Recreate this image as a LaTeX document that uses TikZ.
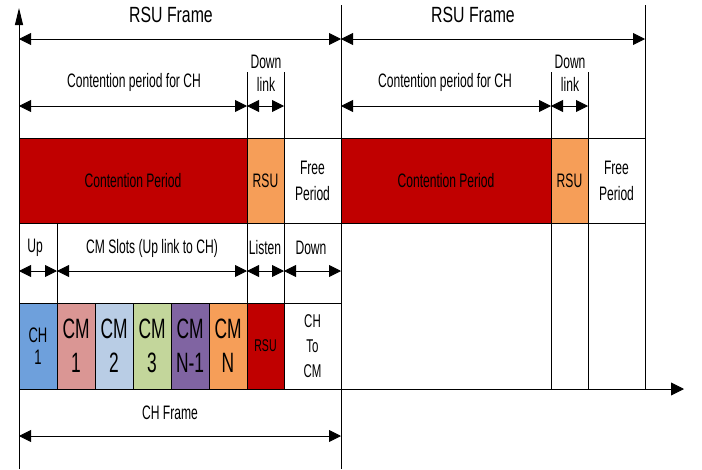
\documentclass[tikz,border=0pt]{standalone}
\usepackage{fontspec}
\setmainfont[FakeStretch=0.62]{Liberation Sans}
\newfontfamily\widefont[FakeStretch=0.72]{Liberation Sans}
\usetikzlibrary{arrows.meta}
\definecolor{cpred}{RGB}{192,0,0}
\definecolor{rsuorange}{RGB}{246,158,88}
\definecolor{chblue}{RGB}{110,160,220}
\definecolor{cmpink}{RGB}{218,150,148}
\definecolor{cmlblue}{RGB}{185,205,229}
\definecolor{cmgreen}{RGB}{195,214,155}
\definecolor{cmpurple}{RGB}{128,100,162}

\begin{document}
\begin{tikzpicture}[x=1pt,y=-1pt]
        \tikzstyle{every node}+=[inner sep=0pt, font=\fontsize{19.5}{24}\selectfont]
        \tikzstyle{dim}=[{Triangle[length=12pt,width=12pt]}-{Triangle[length=12pt,width=12pt]}, line width=0.9pt]
        \tikzstyle{slot}=[draw=black, line width=0.9pt, outer sep=0pt, anchor=north west]
        \tikzstyle{grid}=[black, line width=0.6pt]
        \useasboundingbox (0,0) rectangle (702,469);
        % time axes
        \draw [black, line width=0.9pt, -{Triangle[length=17pt,width=8pt]}] (19,469) coordinate (ybot) -- (19,8) coordinate (ytop);
        \draw [black, line width=0.9pt, -{Triangle[length=13pt,width=13pt]}] (19,389) coordinate (xorg) -- (684,389) coordinate (xend);
        % frame boundaries
        \draw [grid] (341,5) -- (341,469);
        \draw [grid] (645,5) -- (645,389);
        \draw [grid] (247,72) -- (247,389);
        \draw [grid] (284,72) -- (284,389);
        \draw [grid] (551,72) -- (551,389);
        \draw [grid] (588,72) -- (588,389);
        \draw [grid] (57,223) -- (57,303);
        % RSU level
        \node [slot, fill=cpred, minimum width=228pt, minimum height=85pt] (cp1) at (19,138) {Contention Period};
        \node [slot, fill=rsuorange, minimum width=37pt, minimum height=85pt] (rsu1) at (247,138) {RSU};
        \node [slot, fill=white, minimum width=57pt, minimum height=85pt, align=center, font=\fontsize{19.5}{26}\selectfont] (free1) at (284,138) {Free\\Period};
        \node [slot, fill=cpred, minimum width=210pt, minimum height=85pt] (cp2) at (341,138) {Contention Period};
        \node [slot, fill=rsuorange, minimum width=37pt, minimum height=85pt] (rsu2) at (551,138) {RSU};
        \node [slot, fill=white, minimum width=57pt, minimum height=85pt, align=center, font=\fontsize{19.5}{26}\selectfont] (free2) at (588,138) {Free\\Period};
        % CH level
        \node [slot, fill=chblue, minimum width=38pt, minimum height=86pt, align=center, font=\fontsize{21}{22}\selectfont] (ch1) at (19,303) {CH\\1};
        \node [slot, fill=cmpink, minimum width=38pt, minimum height=86pt, align=center, font=\fontsize{28}{34}\selectfont] (cm1) at (57,303) {CM\\1};
        \node [slot, fill=cmlblue, minimum width=38pt, minimum height=86pt, align=center, font=\fontsize{28}{34}\selectfont] (cm2) at (95,303) {CM\\2};
        \node [slot, fill=cmgreen, minimum width=38pt, minimum height=86pt, align=center, font=\fontsize{28}{34}\selectfont] (cm3) at (133,303) {CM\\3};
        \node [slot, fill=cmpurple, minimum width=38pt, minimum height=86pt, align=center, font=\fontsize{28}{34}\selectfont] (cmn1) at (171,303) {CM\\N-1};
        \node [slot, fill=rsuorange, minimum width=38pt, minimum height=86pt, align=center, font=\fontsize{28}{34}\selectfont] (cmn) at (209,303) {CM\\N};
        \node [slot, fill=cpred, minimum width=37pt, minimum height=86pt, font=\fontsize{17}{20}\selectfont] (rsu3) at (247,303) {RSU};
        \node [slot, fill=white, minimum width=57pt, minimum height=86pt, align=center, font=\fontsize{18.5}{25}\selectfont] (chcm) at (284,303) {CH\\To\\CM};
        % dimension arrows
        \draw [dim] (19,39) coordinate (rf0) -- (341,39) coordinate (rf1);
        \draw [dim] (rf1) -- (645,39) coordinate (rf2);
        \draw [dim] (19,106) coordinate (cpa0) -- (247,106) coordinate (cpa1);
        \draw [dim] (cpa1) -- (284,106) coordinate (dla1);
        \draw [dim] (341,106) coordinate (cpb0) -- (551,106) coordinate (cpb1);
        \draw [dim] (cpb1) -- (588,106) coordinate (dlb1);
        \draw [dim] (19,271) coordinate (up0) -- (57,271) coordinate (up1);
        \draw [dim] (up1) -- (247,271) coordinate (sl1);
        \draw [dim] (sl1) -- (284,271) coordinate (li1);
        \draw [dim] (li1) -- (341,271) coordinate (dn1);
        \draw [dim] (19,436) coordinate (chf0) -- (341,436) coordinate (chf1);
        % labels
        \node [font=\widefont\fontsize{22}{24}\selectfont] (rflab1) at (171,15) {RSU Frame};
        \node [font=\widefont\fontsize{22}{24}\selectfont] (rflab2) at (473,15) {RSU Frame};
        \node (cplab1) at (134,82) {Contention period for CH};
        \node (cplab2) at (445,82) {Contention period for CH};
        \node [align=center, font=\fontsize{19.5}{23}\selectfont] (dllab1) at (266,73) {Down\\link};
        \node [align=center, font=\fontsize{19.5}{23}\selectfont] (dllab2) at (570,73) {Down\\link};
        \node (uplab) at (35,248) {Up};
        \node (sllab) at (152,248) {CM Slots (Up link to CH)};
        \node (lilab) at (265,248) {Listen};
        \node (dnlab) at (311,248) {Down};
        \node (chflab) at (170,413) {CH Frame};
\end{tikzpicture}
\end{document}
